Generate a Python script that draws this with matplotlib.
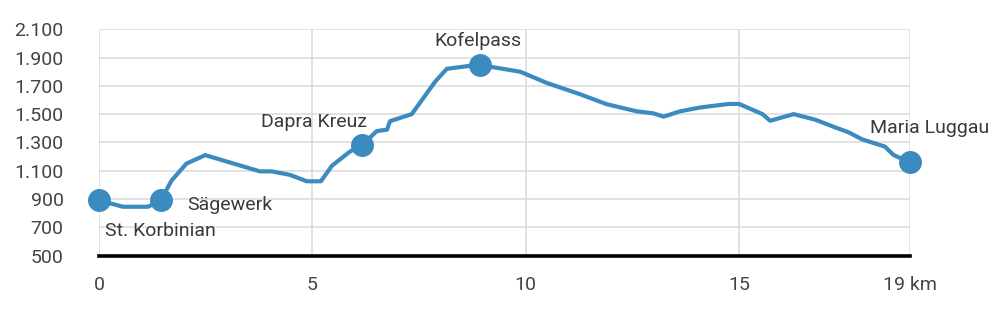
import matplotlib
matplotlib.use("Agg")
import matplotlib.pyplot as plt
from matplotlib.ticker import FuncFormatter

plt.rcParams["font.family"] = ["Roboto", "DejaVu Sans"]

# elevation profile (km, metres)
dist_km = [0.0, 0.56, 1.15, 1.45, 1.70, 2.05, 2.49, 3.77, 4.05, 4.48, 4.87,
           5.20, 5.46, 5.88, 6.16, 6.51, 6.75, 6.82, 7.33, 7.88, 8.15, 8.39,
           8.93, 9.17, 9.87, 10.50, 11.28, 11.90, 12.60, 13.00, 13.23, 13.62,
           14.09, 14.76, 15.00, 15.55, 15.73, 16.28, 16.79, 17.22, 17.57,
           17.88, 18.42, 18.62, 19.00]
elev_m = [890, 845, 845, 890, 1030, 1150, 1210, 1095, 1095, 1070, 1025,
          1025, 1135, 1235, 1280, 1380, 1390, 1450, 1500, 1730, 1820, 1830,
          1850, 1835, 1800, 1720, 1640, 1570, 1520, 1505, 1482, 1520,
          1547, 1572, 1572, 1500, 1453, 1500, 1460, 1410, 1371,
          1322, 1270, 1211, 1160]

# stops along the way
stop_names = ["St. Korbinian", "Sägewerk", "Dapra Kreuz", "Kofelpass", "Maria Luggau"]
stop_km = [0.0, 1.45, 6.16, 8.93, 19.0]
stop_elev = [890, 890, 1280, 1850, 1160]

x_ticks = [0, 5, 10, 15, 19]
x_tick_labels = ["0", "5", "10", "15", "19 km"]
y_ticks = [500, 700, 900, 1100, 1300, 1500, 1700, 1900, 2100]

blue = "#3b8bc0"
text_color = "#3a3a3a"

fig = plt.figure(figsize=(10.07, 3.24), dpi=100)
ax = fig.add_axes([0.0983, 0.2114, 0.9034 - 0.0983, 0.9096 - 0.2114])

ax.plot(dist_km, elev_m, color=blue, linewidth=3, solid_joinstyle="round",
        zorder=3, clip_on=False)
ax.plot(stop_km, stop_elev, "o", color=blue, markersize=15.5, zorder=4,
        clip_on=False)

# label placement (offset in points, alignment)
label_style = [
    ((4.3, -26), "left"),
    ((19, -6.7), "left"),
    ((3.6, 13), "right"),
    ((-1.4, 13.2), "center"),
    ((14, 21.2), "center"),
]
for name, xk, ye, (off, ha) in zip(stop_names, stop_km, stop_elev, label_style):
    ax.annotate(name, (xk, ye), xytext=off, textcoords="offset points",
                ha=ha, va="baseline", fontsize=14, color=text_color)

ax.set_xlim(0, 19)
ax.set_ylim(500, 2100)
ax.set_xticks(x_ticks)
ax.set_xticklabels(x_tick_labels)
ax.set_yticks(y_ticks)
ax.yaxis.set_major_formatter(FuncFormatter(lambda v, p: f"{int(v):,}".replace(",", ".")))

ax.grid(True, color="#dddddd", linewidth=1.2)
ax.set_axisbelow(True)
for spine in ax.spines.values():
    spine.set_visible(False)
ax.axhline(500, color="black", linewidth=2.6, zorder=2, clip_on=False,
           solid_capstyle="projecting")

ax.tick_params(axis="both", length=0, labelsize=14, labelcolor="#444444")
ax.tick_params(axis="y", pad=25.5)
ax.tick_params(axis="x", pad=15)

fig.savefig("out.png", dpi=100)
